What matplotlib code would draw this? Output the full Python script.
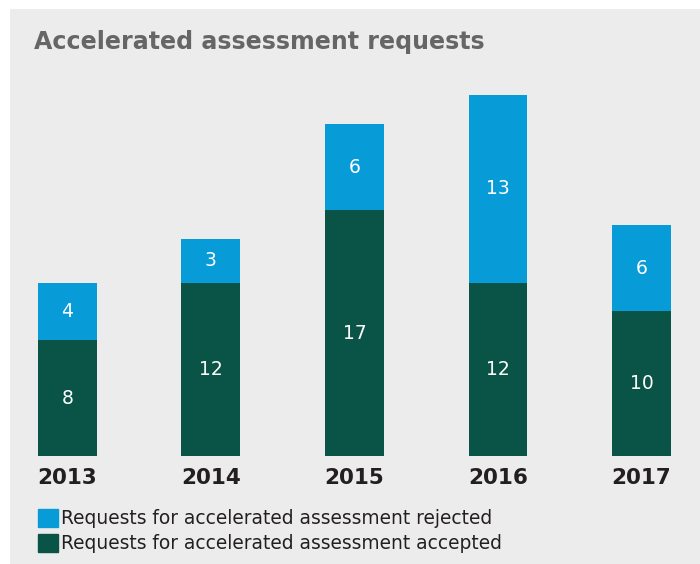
import matplotlib
matplotlib.use("Agg")
import matplotlib.pyplot as plt
from matplotlib.patches import Rectangle, Patch

years = ["2013", "2014", "2015", "2016", "2017"]
accepted = [8, 12, 17, 12, 10]
rejected = [4, 3, 6, 13, 6]

BLUE = "#079bd8"
GREEN = "#0a5447"
BG = "#ececec"


def main():
    fig = plt.figure(figsize=(7, 5.64), dpi=100, facecolor="white")
    # gray panel behind everything (white strip on top and left)
    fig.patches.append(Rectangle((10 / 700, 0), 690 / 700, 555 / 564,
                                 transform=fig.transFigure, facecolor=BG,
                                 edgecolor="none", zorder=-1))

    ax = fig.add_axes([2.9 / 700, 0.192, 696 / 700, 0.665])
    ax.set_zorder(2)
    ax.set_facecolor("none")
    x = range(len(years))
    ax.bar(x, accepted, width=0.411, color=GREEN)
    ax.bar(x, rejected, width=0.411, bottom=accepted, color=BLUE)

    for i in x:
        ax.text(i, accepted[i] / 2, str(accepted[i]), ha="center", va="center",
                color="white", fontsize=13.5)
        ax.text(i, accepted[i] + rejected[i] / 2, str(rejected[i]), ha="center",
                va="center", color="white", fontsize=13.5)

    ax.set_xlim(-0.45, 4.4)
    ax.set_ylim(0, 26)
    ax.set_xticks(list(x))
    ax.set_xticklabels(years, fontsize=15.5, fontweight="bold", color="#231f20")
    ax.tick_params(axis="x", length=0, pad=8.5)
    ax.set_yticks([])
    for s in ax.spines.values():
        s.set_visible(False)

    fig.text(34 / 700, 1 - 42 / 564, "Accelerated assessment requests",
             fontsize=17.1, fontweight="bold", color="#666666", va="center")

    handles = [Patch(color=BLUE, label="Requests for accelerated assessment rejected"),
               Patch(color=GREEN, label="Requests for accelerated assessment accepted")]
    leg = fig.legend(handles=handles, loc="upper left",
                     bbox_to_anchor=(38 / 700, 1 - 509 / 564),
                     frameon=False, fontsize=13.4, handlelength=1.1, handleheight=1.1,
                     handletextpad=0.15, labelspacing=0.3, borderaxespad=0, borderpad=0,
                     labelcolor="#231f20")
    leg.set_zorder(3)

    fig.savefig("out.png", dpi=100, facecolor="white")


if __name__ == "__main__":
    main()
